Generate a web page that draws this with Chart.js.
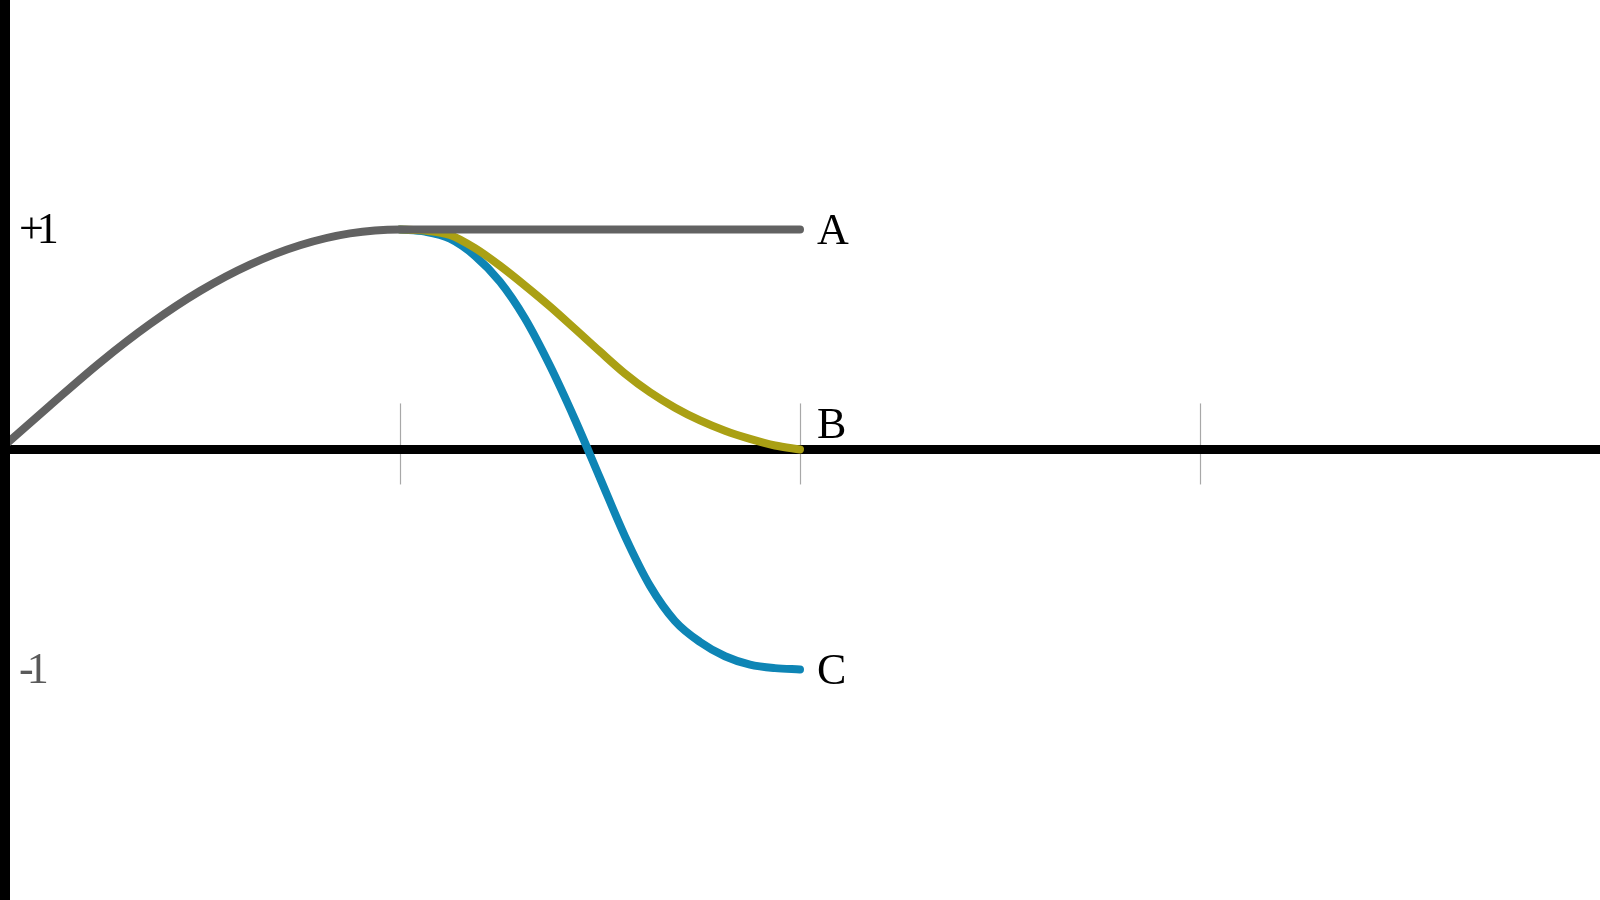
<!DOCTYPE html>
<html>
<head>
<meta charset="utf-8">
<script src="https://cdn.jsdelivr.net/npm/chart.js"></script>
<style>
  html, body { margin: 0; padding: 0; background: #fff; }
  #wrap { width: 1600px; height: 900px; }
</style>
</head>
<body>
<div id="wrap"><canvas id="chartCanvas"></canvas></div>
<script>
// rising part shared by all three, then flat line A
let xGray = [0, 0.125, 0.25, 0.375, 0.5, 0.625, 0.75, 0.875, 1, 1.5, 2];
let yGray = [0, 0.2, 0.395, 0.57, 0.72, 0.84, 0.928, 0.982, 1, 1, 1];

// falling part of B and C
let xFall = [1, 1.0625, 1.125, 1.1875, 1.25, 1.3125, 1.375, 1.4375, 1.5,
             1.5625, 1.625, 1.6875, 1.75, 1.8125, 1.875, 1.9375, 2];
let yB = [1, 0.995, 0.975, 0.915, 0.835, 0.745, 0.65, 0.548, 0.445,
          0.345, 0.26, 0.19, 0.132, 0.085, 0.048, 0.018, 0];
let yC = [1, 0.99, 0.958, 0.88, 0.762, 0.595, 0.38, 0.135, -0.13,
          -0.395, -0.62, -0.78, -0.875, -0.94, -0.978, -0.994, -1];

let xTicks = [1, 2, 3];
let yTickValues = [1, -1];
let yTickLabels = ['+1', '-1'];

let endLabels = ['A', 'B', 'C'];
let endLabelX = [2, 2, 2];
let endLabelY = [1, 0.12, -1];

function pts(xs, ys) {
    let out = [];
    for (let i = 0; i < xs.length; i++) {
        out.push({ x: xs[i], y: ys[i] });
    }
    return out;
}

const serif = '"Liberation Serif", "Times New Roman", serif';

const axesPlugin = {
    id: 'axes',
    beforeDatasetsDraw(chart) {
        const ctx = chart.ctx;
        const xs = chart.scales.x;
        const ys = chart.scales.y;
        const y0 = ys.getPixelForValue(0);
        ctx.save();
        // tick marks
        ctx.strokeStyle = '#a8a8a8';
        ctx.lineWidth = 1.2;
        for (const t of xTicks) {
            const px = Math.round(xs.getPixelForValue(t)) + 0.5;
            ctx.beginPath();
            ctx.moveTo(px, y0 - 46);
            ctx.lineTo(px, y0 + 35);
            ctx.stroke();
        }
        // horizontal axis
        ctx.strokeStyle = '#000';
        ctx.lineWidth = 9;
        ctx.beginPath();
        ctx.moveTo(xs.left, y0);
        ctx.lineTo(xs.right, y0);
        ctx.stroke();
        ctx.restore();
    },
    afterDatasetsDraw(chart) {
        const ctx = chart.ctx;
        const xs = chart.scales.x;
        const ys = chart.scales.y;
        ctx.save();
        // vertical axis bar on the left edge
        ctx.fillStyle = '#000';
        ctx.fillRect(xs.getPixelForValue(0), chart.chartArea.top, 10, chart.chartArea.bottom - chart.chartArea.top);

        ctx.font = '44px ' + serif;
        ctx.textAlign = 'left';
        ctx.textBaseline = 'alphabetic';
        ctx.letterSpacing = '-7px';
        for (let i = 0; i < yTickValues.length; i++) {
            ctx.fillStyle = yTickValues[i] > 0 ? '#000' : '#5a5a5a';
            ctx.fillText(yTickLabels[i], xs.getPixelForValue(0) + 19, ys.getPixelForValue(yTickValues[i]) + 14);
        }
        ctx.letterSpacing = '0px';
        ctx.fillStyle = '#000';
        for (let i = 0; i < endLabels.length; i++) {
            ctx.fillText(endLabels[i], xs.getPixelForValue(endLabelX[i]) + 17, ys.getPixelForValue(endLabelY[i]) + 14.5);
        }
        ctx.restore();
    }
};

let lineStyle = {
    borderWidth: 8,
    pointRadius: 0,
    pointHoverRadius: 0,
    cubicInterpolationMode: 'monotone',
    borderCapStyle: 'round',
    borderJoinStyle: 'round',
    fill: false,
    clip: 10
};

window.chart = new Chart('chartCanvas', {
    type: 'line',
    data: {
        datasets: [
            Object.assign({ label: 'A', data: pts(xGray, yGray), borderColor: '#626262' }, lineStyle),
            Object.assign({ label: 'B', data: pts(xFall, yB), borderColor: '#aaa014' }, lineStyle),
            Object.assign({ label: 'C', data: pts(xFall, yC), borderColor: '#0e85b5' }, lineStyle)
        ]
    },
    options: {
        responsive: true,
        maintainAspectRatio: false,
        animation: false,
        layout: { padding: 0 },
        plugins: {
            legend: { display: false },
            tooltip: { enabled: false }
        },
        scales: {
            x: { type: 'linear', min: 0, max: 4, display: false },
            y: { type: 'linear', min: -2.048, max: 2.043, display: false }
        }
    },
    plugins: [axesPlugin]
});
</script>
</body>
</html>
